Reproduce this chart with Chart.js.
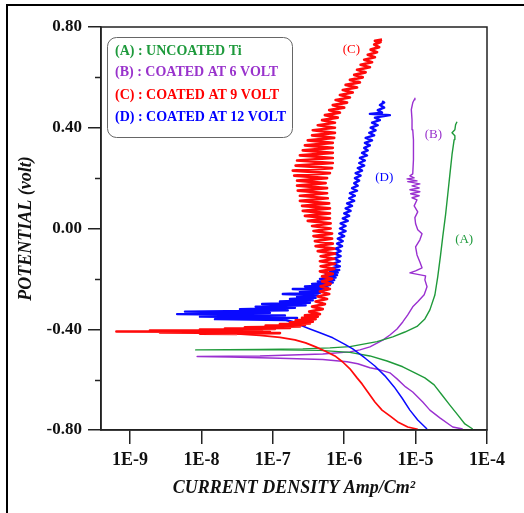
<!DOCTYPE html>
<html>
<head>
<meta charset="utf-8">
<title>Potentiodynamic polarization curves</title>
<script src="https://cdn.jsdelivr.net/npm/chart.js@4.4.1/dist/chart.umd.min.js"></script>
<style>
  html, body { margin: 0; padding: 0; background: #fff; }
</style>
</head>
<body>
<canvas id="tafelChart" width="524" height="513"></canvas>
<script>
// Tafel curves: each point is [log10(current density, A/cm2), potential (V)]
const xTicks = [-9, -8, -7, -6, -5, -4];
const xTickLabels = ['1E-9', '1E-8', '1E-7', '1E-6', '1E-5', '1E-4'];
const yTicks = [-0.8, -0.4, 0, 0.4, 0.8];
const yTickLabels = ['-0.80', '-0.40', '0.00', '0.40', '0.80'];
const yMinorTicks = [-0.6, -0.2, 0.2, 0.6];

const seriesNames = ['(A) : UNCOATED Ti', '(B) : COATED AT 6 VOLT', '(C) : COATED AT 9 VOLT', '(D) : COATED AT 12 VOLT'];
const seriesTags = ['(A)', '(B)', '(C)', '(D)'];
// where each tag sits, in data coordinates
const tagPositions = [[-4.32, -0.045], [-4.75, 0.373], [-5.90, 0.709], [-5.44, 0.203]];

// (A) uncoated Ti
const curveA = [
  [-4.20, -0.796], [-4.31, -0.776], [-4.41, -0.740], [-4.52, -0.701], [-4.63, -0.661], [-4.74, -0.621],
  [-4.87, -0.593], [-5.01, -0.573], [-5.18, -0.549], [-5.40, -0.526], [-5.64, -0.506], [-5.92, -0.492],
  [-6.34, -0.484], [-6.90, -0.482], [-8.08, -0.482],
  [-7.18, -0.480], [-6.58, -0.478], [-6.20, -0.474], [-5.92, -0.469], [-5.54, -0.449], [-5.32, -0.430],
  [-5.15, -0.411], [-4.98, -0.389], [-4.87, -0.359], [-4.80, -0.323], [-4.73, -0.264], [-4.69, -0.192],
  [-4.65, -0.105], [-4.62, -0.033], [-4.58, 0.055], [-4.55, 0.134], [-4.52, 0.214], [-4.49, 0.293],
  [-4.46, 0.353], [-4.45, 0.368], [-4.49, 0.380], [-4.45, 0.392], [-4.44, 0.412], [-4.42, 0.424]
];

// (B) coated at 6 V
const curveB = [
  [-4.34, -0.796], [-4.48, -0.788], [-4.66, -0.752], [-4.80, -0.721], [-4.90, -0.689], [-5.04, -0.649],
  [-5.14, -0.629], [-5.26, -0.597], [-5.36, -0.573], [-5.50, -0.561], [-5.64, -0.553], [-5.81, -0.537],
  [-5.96, -0.529], [-6.30, -0.520], [-6.90, -0.515], [-7.60, -0.510], [-8.06, -0.508],
  [-7.18, -0.506], [-6.30, -0.498], [-5.92, -0.490], [-5.78, -0.482], [-5.64, -0.470], [-5.46, -0.443],
  [-5.36, -0.423], [-5.26, -0.399], [-5.18, -0.371], [-5.11, -0.343], [-5.04, -0.311], [-4.97, -0.291],
  [-4.88, -0.263], [-4.84, -0.231], [-4.87, -0.204], [-4.86, -0.188], [-4.97, -0.182], [-5.08, -0.176],
  [-5.00, -0.168], [-4.91, -0.156], [-4.94, -0.133], [-4.98, -0.105], [-5.00, -0.073], [-4.94, -0.045],
  [-4.91, -0.021], [-4.97, -0.005], [-5.00, 0.019], [-5.01, 0.043], [-4.97, 0.066], [-5.02, 0.090],
  [-4.98, 0.114], [-5.05, 0.122], [-4.95, 0.130], [-5.07, 0.138], [-4.94, 0.146], [-5.08, 0.154],
  [-4.95, 0.161], [-5.05, 0.169], [-4.94, 0.177], [-5.11, 0.186], [-4.98, 0.189], [-5.12, 0.197],
  [-5.02, 0.201], [-5.08, 0.209], [-5.04, 0.217], [-5.03, 0.273], [-5.03, 0.352], [-5.04, 0.392],
  [-5.05, 0.432], [-5.06, 0.472], [-5.04, 0.499], [-5.02, 0.511], [-5.01, 0.519]
];

// (C) coated at 9 V: smooth cathodic branch, then the noisy part from Ecorr upward
const curveC_cathodic = [
  [-4.97, -0.797], [-5.11, -0.788], [-5.25, -0.768], [-5.36, -0.744], [-5.47, -0.721], [-5.57, -0.689],
  [-5.67, -0.649], [-5.75, -0.617], [-5.82, -0.593], [-5.92, -0.557], [-6.02, -0.530], [-6.13, -0.506],
  [-6.27, -0.486], [-6.40, -0.470], [-6.54, -0.454], [-6.69, -0.442], [-6.90, -0.432], [-7.18, -0.424],
  [-7.50, -0.418]
];
const curveC_anodic = [
  [-7.50, -0.418],
  [-8.02, -0.417], [-6.90, -0.415], [-8.58, -0.413], [-7.04, -0.411], [-9.19, -0.409], [-7.32, -0.407],
  [-8.72, -0.405], [-7.15, -0.403], [-8.02, -0.401], [-6.97, -0.399], [-7.67, -0.397], [-6.76, -0.395],
  [-7.39, -0.392], [-6.62, -0.389], [-7.10, -0.386], [-6.55, -0.383], [-6.90, -0.380], [-6.48, -0.377],
  [-6.76, -0.373], [-6.44, -0.370], [-6.68, -0.365], [-6.40, -0.360], [-6.59, -0.355], [-6.37, -0.350],
  [-6.55, -0.345], [-6.34, -0.340],
  [-6.49, -0.33], [-6.30, -0.32], [-6.45, -0.31], [-6.27, -0.30], [-6.40, -0.29], [-6.24, -0.28],
  [-6.37, -0.27], [-6.21, -0.26], [-6.34, -0.25], [-6.20, -0.24], [-6.33, -0.23], [-6.19, -0.22],
  [-6.31, -0.21], [-6.17, -0.20], [-6.31, -0.19], [-6.16, -0.18], [-6.34, -0.17], [-6.14, -0.16],
  [-6.33, -0.15], [-6.13, -0.14], [-6.34, -0.13], [-6.14, -0.12], [-6.33, -0.11], [-6.13, -0.10],
  [-6.37, -0.09], [-6.14, -0.08], [-6.40, -0.07], [-6.16, -0.06], [-6.41, -0.05], [-6.17, -0.04],
  [-6.43, -0.03], [-6.17, -0.02], [-6.43, -0.01], [-6.19, 0.00], [-6.45, 0.01], [-6.19, 0.02],
  [-6.51, 0.03], [-6.20, 0.04], [-6.55, 0.05], [-6.20, 0.06], [-6.58, 0.07], [-6.20, 0.08],
  [-6.59, 0.09], [-6.21, 0.10], [-6.62, 0.11], [-6.23, 0.12], [-6.62, 0.13], [-6.24, 0.14],
  [-6.65, 0.15], [-6.24, 0.16], [-6.66, 0.17], [-6.26, 0.18], [-6.66, 0.19], [-6.24, 0.20],
  [-6.70, 0.21], [-6.20, 0.22], [-6.72, 0.23], [-6.17, 0.24], [-6.68, 0.25], [-6.16, 0.26],
  [-6.66, 0.27], [-6.16, 0.28], [-6.62, 0.29], [-6.16, 0.30], [-6.58, 0.31], [-6.16, 0.32],
  [-6.55, 0.33], [-6.16, 0.34], [-6.51, 0.35], [-6.14, 0.36], [-6.45, 0.37], [-6.13, 0.38],
  [-6.44, 0.39], [-6.13, 0.40], [-6.37, 0.41], [-6.13, 0.42], [-6.31, 0.43], [-6.09, 0.44],
  [-6.27, 0.45], [-6.06, 0.46], [-6.21, 0.47], [-6.00, 0.48], [-6.16, 0.49], [-5.96, 0.50],
  [-6.12, 0.51], [-5.92, 0.52], [-6.06, 0.53], [-5.88, 0.54], [-6.02, 0.55], [-5.82, 0.56],
  [-5.98, 0.57], [-5.78, 0.58], [-5.92, 0.59], [-5.74, 0.60], [-5.86, 0.61], [-5.70, 0.62],
  [-5.82, 0.63], [-5.64, 0.64], [-5.77, 0.65], [-5.61, 0.66], [-5.72, 0.67], [-5.57, 0.68],
  [-5.67, 0.69], [-5.54, 0.70], [-5.63, 0.71], [-5.51, 0.72], [-5.58, 0.73], [-5.49, 0.74],
  [-5.57, 0.745], [-5.47, 0.75]
];

// (D) coated at 12 V
const curveD_cathodic = [
  [-4.84, -0.796], [-4.97, -0.760], [-5.08, -0.721], [-5.19, -0.673], [-5.30, -0.629], [-5.43, -0.585],
  [-5.57, -0.546], [-5.71, -0.514], [-5.88, -0.478], [-5.99, -0.460], [-6.16, -0.434], [-6.34, -0.414],
  [-6.48, -0.399], [-6.62, -0.383]
];
const curveD_anodic = [
  [-6.62, -0.383], [-6.72, -0.371], [-6.83, -0.363],
  [-7.81, -0.360], [-6.66, -0.355], [-8.02, -0.350], [-6.83, -0.345], [-8.34, -0.340], [-7.04, -0.335],
  [-8.23, -0.330], [-6.79, -0.325], [-7.46, -0.320], [-6.69, -0.315], [-7.24, -0.310], [-6.54, -0.305],
  [-7.15, -0.300], [-6.48, -0.295], [-6.90, -0.290], [-6.44, -0.285], [-6.76, -0.280], [-6.40, -0.275],
  [-6.66, -0.270], [-6.37, -0.265], [-6.86, -0.260], [-6.34, -0.255], [-6.62, -0.250], [-6.28, -0.245],
  [-6.72, -0.240], [-6.23, -0.235], [-6.55, -0.230], [-6.20, -0.225], [-6.45, -0.220], [-6.16, -0.215],
  [-6.37, -0.210], [-6.14, -0.205], [-6.34, -0.200], [-6.12, -0.195], [-6.27, -0.190], [-6.10, -0.185],
  [-6.26, -0.180], [-6.09, -0.175], [-6.20, -0.170], [-6.07, -0.165], [-6.21, -0.160], [-6.06, -0.150],
  [-6.16, -0.140], [-6.06, -0.130], [-6.14, -0.120], [-6.05, -0.110], [-6.13, -0.100], [-6.05, -0.090],
  [-6.12, -0.080], [-6.03, -0.070], [-6.10, -0.060], [-6.02, -0.050], [-6.09, -0.040], [-6.00, -0.030],
  [-6.07, -0.020], [-5.98, -0.010], [-6.06, 0.00], [-5.98, 0.01], [-6.05, 0.02], [-5.95, 0.03],
  [-6.02, 0.04], [-5.93, 0.05], [-6.00, 0.06], [-5.91, 0.07], [-5.98, 0.08], [-5.89, 0.09],
  [-5.96, 0.10], [-5.86, 0.11], [-5.93, 0.12], [-5.85, 0.13], [-5.92, 0.14], [-5.82, 0.15],
  [-5.89, 0.16], [-5.81, 0.17], [-5.86, 0.18], [-5.79, 0.19], [-5.85, 0.20], [-5.77, 0.21],
  [-5.84, 0.22], [-5.75, 0.23], [-5.81, 0.24], [-5.72, 0.25], [-5.79, 0.26], [-5.71, 0.27],
  [-5.78, 0.28], [-5.68, 0.29], [-5.75, 0.30], [-5.67, 0.31], [-5.72, 0.32], [-5.64, 0.33],
  [-5.71, 0.34], [-5.61, 0.35], [-5.70, 0.36], [-5.58, 0.37], [-5.65, 0.38], [-5.56, 0.39],
  [-5.63, 0.40], [-5.53, 0.41], [-5.61, 0.42], [-5.50, 0.43], [-5.57, 0.44], [-5.36, 0.45],
  [-5.64, 0.455], [-5.47, 0.46], [-5.53, 0.47], [-5.44, 0.48], [-5.50, 0.49], [-5.44, 0.50],
  [-5.47, 0.505]
];

const lineColors = ['#1f9a3a', '#9a30d0', '#ff0a0a', '#0a0aff'];
const textColors = ['#1e9a3c', '#9933cc', '#ff0000', '#0000ff'];

const serif = "'Liberation Serif', 'Times New Roman', serif";

function toPoints(arr) {
    return arr.map(p => ({ x: p[0], y: p[1] }));
}

function curveDataset(points, color, order, width) {
    return {
        data: toPoints(points),
        borderColor: color,
        backgroundColor: color,
        showLine: true,
        fill: false,
        pointRadius: 0,
        borderWidth: width,
        borderJoinStyle: 'round',
        tension: 0,
        order: order
    };
}

// frame, minor ticks, legend box and curve tags
const decorPlugin = {
    id: 'decor',
    afterDraw(chart) {
        const { ctx, chartArea: a, scales } = chart;
        ctx.save();

        // outer picture frame (top and left edges)
        ctx.strokeStyle = '#000';
        ctx.lineWidth = 2;
        ctx.beginPath();
        ctx.moveTo(7, 513);
        ctx.lineTo(7, 5);
        ctx.lineTo(524, 5);
        ctx.stroke();

        // plot box
        ctx.strokeStyle = '#222';
        ctx.lineWidth = 1.5;
        ctx.strokeRect(a.left, a.top, a.right - a.left, a.bottom - a.top);

        // short minor ticks on the potential axis
        yMinorTicks.forEach(v => {
            const py = Math.round(scales.y.getPixelForValue(v)) + 0.5;
            ctx.beginPath();
            ctx.moveTo(a.left - 6, py);
            ctx.lineTo(a.left, py);
            ctx.stroke();
        });

        // legend box
        ctx.strokeStyle = '#666';
        ctx.lineWidth = 1;
        ctx.beginPath();
        ctx.roundRect(107.5, 37.5, 185, 100, 9);
        ctx.stroke();

        ctx.font = 'bold 14px ' + serif;
        ctx.textBaseline = 'middle';
        ctx.textAlign = 'left';
        const legendY = [51, 72, 95, 117];
        seriesNames.forEach((name, i) => {
            ctx.fillStyle = textColors[i];
            ctx.fillText(name, 115, legendY[i]);
        });

        // curve tags
        ctx.font = '13px ' + serif;
        ctx.textAlign = 'center';
        seriesTags.forEach((tag, i) => {
            ctx.fillStyle = textColors[i];
            const px = scales.x.getPixelForValue(tagPositions[i][0]);
            const py = scales.y.getPixelForValue(tagPositions[i][1]);
            ctx.fillText(tag, px, py);
        });

        ctx.restore();
    }
};

new Chart(document.getElementById('tafelChart'), {
    type: 'scatter',
    data: {
        datasets: [
            curveDataset(curveC_anodic, lineColors[2], 1, 2.7),
            curveDataset(curveC_cathodic, lineColors[2], 2, 1.7),
            curveDataset(curveD_anodic, lineColors[3], 3, 2.4),
            curveDataset(curveD_cathodic, lineColors[3], 4, 1.5),
            curveDataset(curveA, lineColors[0], 5, 1.4),
            curveDataset(curveB, lineColors[1], 6, 1.4)
        ]
    },
    options: {
        responsive: false,
        animation: false,
        events: [],
        layout: {
            padding: { top: 27, right: 37, left: 0, bottom: 0 }
        },
        plugins: {
            legend: { display: false },
            tooltip: { enabled: false }
        },
        scales: {
            x: {
                type: 'linear',
                min: -9.406,
                max: -4,
                afterBuildTicks: scale => {
                    scale.ticks = xTicks.map(v => ({ value: v }));
                },
                afterFit: scale => {
                    scale.height = 83;
                },
                border: { display: true, color: '#222', width: 1.5 },
                grid: {
                    drawOnChartArea: false,
                    drawTicks: true,
                    tickLength: 14,
                    color: '#222',
                    lineWidth: 1.5
                },
                ticks: {
                    padding: 6,
                    color: '#111',
                    maxRotation: 0,
                    font: { family: serif, size: 18, weight: 'bold' },
                    callback: value => xTickLabels[xTicks.indexOf(value)]
                },
                title: {
                    display: true,
                    text: 'CURRENT DENSITY Amp/Cm\u00B2',
                    color: '#111',
                    padding: { top: 0, bottom: 14 },
                    font: { family: serif, size: 18, weight: 'bold', style: 'italic' }
                }
            },
            y: {
                type: 'linear',
                min: -0.8,
                max: 0.8,
                afterBuildTicks: scale => {
                    scale.ticks = yTicks.map(v => ({ value: v }));
                },
                afterFit: scale => {
                    scale.width = 101;
                },
                border: { display: true, color: '#222', width: 1.5 },
                grid: {
                    drawOnChartArea: false,
                    drawTicks: true,
                    tickLength: 13,
                    color: '#222',
                    lineWidth: 1.5
                },
                ticks: {
                    padding: 6,
                    color: '#111',
                    font: { family: serif, size: 17, weight: 'bold' },
                    callback: value => yTickLabels[yTicks.indexOf(value)]
                },
                title: {
                    display: true,
                    text: 'POTENTIAL (volt)',
                    color: '#111',
                    padding: { top: 16, bottom: 0 },
                    font: { family: serif, size: 18, weight: 'bold', style: 'italic' }
                }
            }
        }
    },
    plugins: [decorPlugin]
});
</script>
</body>
</html>
